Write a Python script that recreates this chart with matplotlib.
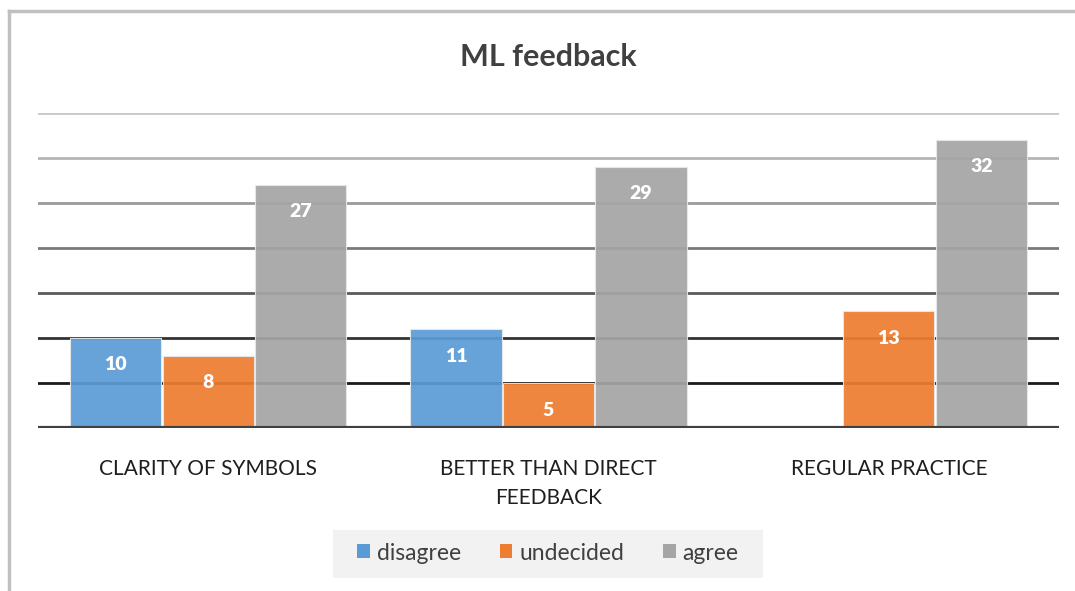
import matplotlib
matplotlib.use("Agg")
import matplotlib.pyplot as plt
import numpy as np
from matplotlib.patches import Rectangle
from matplotlib.lines import Line2D

categories = ["CLARITY OF SYMBOLS", "BETTER THAN DIRECT\nFEEDBACK", "REGULAR PRACTICE"]
series_names = ["disagree", "undecided", "agree"]
disagree = [10, 11, 0]
undecided = [8, 5, 13]
agree = [27, 29, 32]
values = [disagree, undecided, agree]
colors = ["#5B9BD5", "#ED7D31", "#A5A5A5"]

plt.rcParams['font.family'] = ['Lato', 'DejaVu Sans']

fig = plt.figure(figsize=(10.75, 5.91), dpi=100)
W, H = 1075, 591
ax = fig.add_axes([38 / W, 1 - 428 / H, (1059 - 38) / W, (428 - 113) / H])

x = np.arange(len(categories))
bw = 0.272
offsets = [-bw, 0, bw]

# gridlines with gradient (dark near bottom, light near top)
grid_vals = [5, 10, 15, 20, 25, 30, 35]
grid_cols = ["#1a1a1a", "#333333", "#5a5a5a", "#7a7a7a", "#9a9a9a", "#b5b5b5", "#c8c8c8"]
for gv, gc in zip(grid_vals, grid_cols):
    ax.axhline(gv, color=gc, lw=2.0, zorder=1)

for vals, off, col, name in zip(values, offsets, colors, series_names):
    ax.bar(x + off, vals, width=bw * 0.985, color=col, alpha=0.93,
           edgecolor="#e8e8e8", linewidth=0.8, zorder=2, label=name)
    for xi, v in zip(x + off, vals):
        if v > 0:
            ax.text(xi, v - 3.0, str(v), ha="center", va="center", color="white",
                    fontsize=14, fontweight="heavy", zorder=3)

ax.axhline(0, color="#404040", lw=3, zorder=4)
ax.set_xlim(-0.5, 2.5)
ax.set_ylim(0, 35)
ax.set_yticks([])
ax.set_xticks(x)
ax.set_xticklabels(categories, fontsize=15, color="#1f1f1f", linespacing=1.6)
for lbl in ax.get_xticklabels():
    lbl.set_multialignment("center")
ax.tick_params(axis="x", length=0, pad=22)
for s in ax.spines.values():
    s.set_visible(False)
ax.patch.set_alpha(0)

# title
fig.text(548 / W, 1 - 57 / H, "ML feedback", ha="center", va="center",
         fontsize=22, fontweight="bold", color="#404040")

# frame lines
fig.add_artist(Line2D([9 / W, 9 / W], [0, 1 - 11 / H], color="#c0c0c0", lw=2.5))
fig.add_artist(Line2D([9 / W, 1], [1 - 11 / H, 1 - 11 / H], color="#c0c0c0", lw=2.5))

# legend background box
fig.add_artist(Rectangle((333 / W, 1 - 578 / H), (763 - 333) / W, 48 / H,
                         transform=fig.transFigure, facecolor="#f2f2f2", edgecolor="none", zorder=0))
handles = [Rectangle((0, 0), 1, 1, facecolor=c, edgecolor="none") for c in colors]
leg = fig.legend(handles, series_names, loc="center", bbox_to_anchor=(548 / W, 1 - 553 / H),
                 ncol=3, frameon=False, fontsize=16.5, handlelength=0.55, handleheight=0.55,
                 handletextpad=0.3, columnspacing=1.7)
for t in leg.get_texts():
    t.set_color("#404040")

fig.savefig("out.png", dpi=100, facecolor="white")
